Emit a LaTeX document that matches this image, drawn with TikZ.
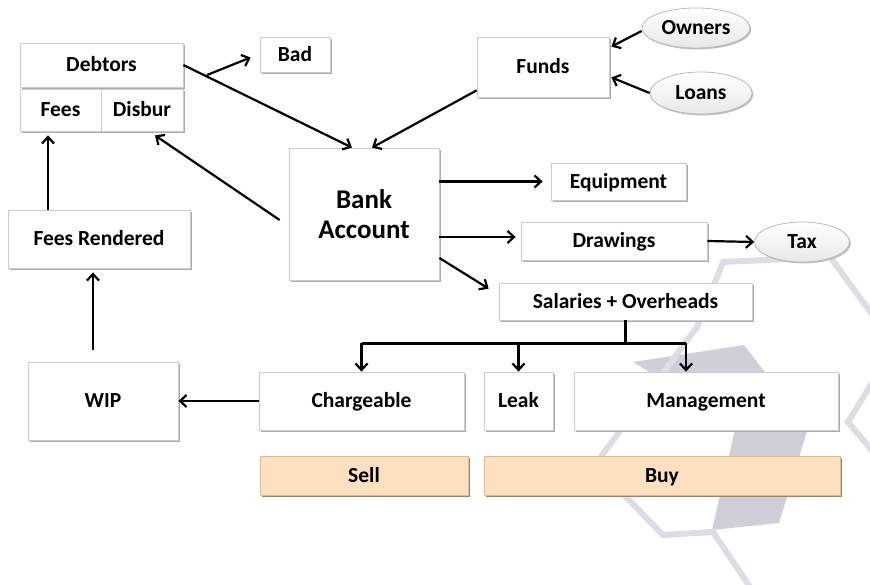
\documentclass[tikz,border=0pt]{standalone}
\usepackage{fontspec}
\setmainfont{Carlito}
\usetikzlibrary{shapes.geometric,arrows.meta,shadows}
\definecolor{wmline}{RGB}{221,221,229}
\definecolor{wmfill}{RGB}{206,207,216}
\definecolor{peach}{RGB}{252,224,192}
\definecolor{peachedge}{RGB}{222,186,150}
\definecolor{peachshadow}{RGB}{160,130,100}
\begin{document}
\begin{tikzpicture}[x=1pt,y=-1pt,
  box/.style={rectangle, draw=gray!40, line width=0.8pt, fill=white, inner sep=0pt,
    font=\bfseries\fontsize{21.5}{24}\selectfont, text height=13.5pt, text depth=0pt,
    drop shadow={shadow xshift=1.8pt, shadow yshift=-1.8pt, fill=gray!65, opacity=1}},
  tagbox/.style={box, fill=peach, draw=peachedge,
    drop shadow={shadow xshift=1.8pt, shadow yshift=-1.8pt, fill=peachshadow, opacity=1}},
  oval/.style={ellipse, draw=gray!55, line width=0.8pt, top color=white, bottom color=gray!18,
    inner sep=0pt, font=\bfseries\fontsize{21.5}{24}\selectfont, text height=13.5pt, text depth=0pt,
    drop shadow={shadow xshift=1.4pt, shadow yshift=-1.4pt, fill=gray!50, opacity=1}},
  link/.style={line width=2.2pt, black},
  arr/.style={link, -{Straight Barb[length=6.5pt,width=12pt,line width=2.2pt]}},
  wm/.style={line width=6pt, wmline, line join=miter}
]
\useasboundingbox (0,0) rectangle (870,585);
\fill[white] (0,0) rectangle (870,585);

% watermark
\begin{scope}
\clip (0,0) rectangle (870,585);
\fill[wmfill] (633,362) -- (744,345) -- (808,428) -- (779,523) -- (712,530) -- (736,425) -- cycle;
\draw[wm] (597,462) -- (697,327) -- (723,262) -- (830,257) -- (880,325);
\draw[wm] (600,470) -- (663,535) -- (713,532) -- (752,590);
\draw[wm] (880,370) -- (848,422) -- (880,460);
\end{scope}

% nodes
\node[box, minimum width=163, minimum height=44] (debt) at (101.5,65) {Debtors};
\node[box, minimum width=81, minimum height=42] (fees) at (60.5,110) {Fees};
\node[box, minimum width=82, minimum height=42] (disb) at (142,110) {Disbur};
\node[box, minimum width=70, minimum height=35] (bad) at (295,54.5) {Bad};
\node[box, minimum width=132, minimum height=60] (funds) at (543,67) {Funds};
\node[oval, minimum width=108, minimum height=40] (owners) at (696,28) {Owners};
\node[oval, minimum width=102, minimum height=42] (loans) at (701,93) {Loans};
\node[box, minimum width=150, minimum height=132, align=center, text height=, text depth=,
  font=\bfseries\fontsize{27}{30}\selectfont] (bank) at (364,214) {Bank\\Account};
\node[box, minimum width=135, minimum height=37] (equip) at (618.5,181.5) {Equipment};
\node[box, minimum width=186, minimum height=38] (draw) at (614,241) {Drawings};
\node[oval, minimum width=95, minimum height=40] (tax) at (802,242) {Tax};
\node[box, minimum width=253, minimum height=37] (sal) at (625.5,301.5) {Salaries + Overheads};
\node[box, minimum width=182, minimum height=58] (fr) at (99,239) {Fees Rendered};
\node[box, minimum width=150, minimum height=78] (wip) at (103,401) {WIP};
\node[box, minimum width=205, minimum height=58] (charge) at (361.5,401) {Chargeable};
\node[box, minimum width=69, minimum height=58] (leak) at (518.5,401) {Leak};
\node[box, minimum width=264, minimum height=58] (mgmt) at (706,401) {Management};
\node[tagbox, minimum width=208, minimum height=39] (sell) at (364,475.5) {Sell};
\node[tagbox, minimum width=356, minimum height=39] (buy) at (662,475.5) {Buy};

% connectors
\coordinate (badsrc) at (207,75);
\draw[arr] (badsrc) -- ([xshift=-9pt,yshift=-3pt]bad.west);
\draw[arr] (debt.east) -- ([xshift=-12pt]bank.north);
\draw[arr] ([yshift=7pt]funds.south west) -- ([xshift=8pt]bank.north);
\draw[arr] ([yshift=-3pt]owners.west) -- ([xshift=2pt,yshift=-10pt]funds.north east);
\draw[arr] (loans.west) -- ([xshift=2pt,yshift=20pt]funds.south east);
\draw[arr] ([xshift=-9pt,yshift=-6pt]bank.west) -- ([xshift=13pt,yshift=-4pt]disb.south);
\draw[arr] ([xshift=-51pt]fr.north) -- ([xshift=-12.5pt,yshift=-4pt]fees.south);
\draw[arr] ([xshift=-10pt,yshift=12pt]wip.north) -- ([xshift=-6pt,yshift=-4pt]fr.south);
\draw[arr] (charge.west) -- (wip.east);
\draw[arr] (bank.east |- equip.west) -- ([xshift=-8pt]equip.west);
\draw[arr] ([yshift=4pt]bank.east |- draw.west) -- ([xshift=-5pt,yshift=4pt]draw.west);
\draw[arr] (draw.east) -- (tax.west);
\draw[arr] ([yshift=-44pt]bank.east) -- ([xshift=-10pt,yshift=-6pt]sal.north west);
\draw[link] (sal.south) -- ++(0,23) coordinate (j);
\draw[link] (charge.north |- j) -- ([xshift=-20pt]mgmt.north |- j);
\draw[arr] (charge.north |- j) -- (charge.north);
\draw[arr] (leak.north |- j) -- (leak.north);
\draw[arr] ([xshift=-20pt]mgmt.north |- j) -- ([xshift=-20pt]mgmt.north);
\end{tikzpicture}
\end{document}
